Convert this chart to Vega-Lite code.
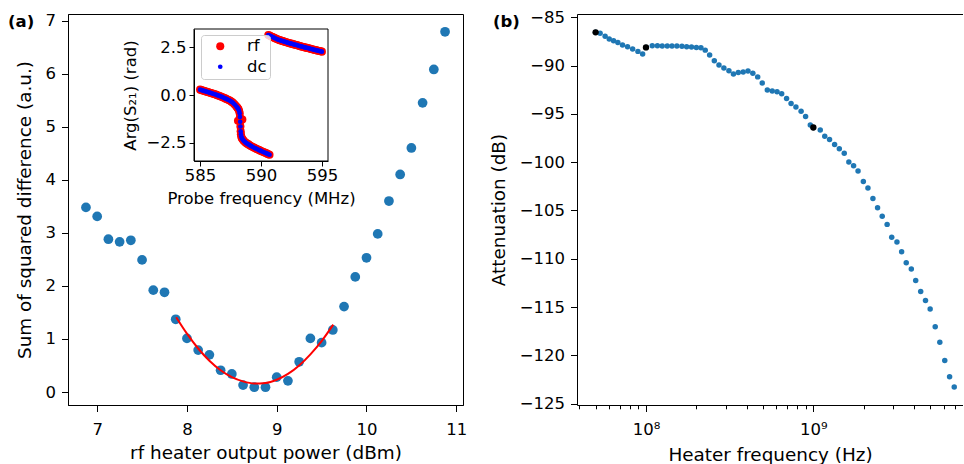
{
  "$schema": "https://vega.github.io/schema/vega-lite/v6.json",
  "padding": {"left": 7, "top": 9, "right": 0, "bottom": 0},
  "background": "white",
  "spacing": 21,
  "config": {
    "font": "DejaVu Sans",
    "view": {"stroke": "black", "strokeWidth": 1},
    "axis": {"domainColor": "black", "tickColor": "black", "labelColor": "black", "titleColor": "black", "grid": false, "labelFont": "DejaVu Sans", "titleFont": "DejaVu Sans", "labelFontSize": 16.5, "titleFontSize": 18.4, "titleFontWeight": "normal", "tickSize": 6.5, "labelPadding": 6, "titlePadding": 10.5, "domainWidth": 1, "tickWidth": 1, "labelFlush": false, "labelOverlap": false}
  },
  "datasets": {
    "scan": [
      {"power": 6.875, "ssd": 3.48}, {"power": 7.0, "ssd": 3.31}, {"power": 7.125, "ssd": 2.88}, {"power": 7.25, "ssd": 2.83},
      {"power": 7.375, "ssd": 2.86}, {"power": 7.5, "ssd": 2.49}, {"power": 7.625, "ssd": 1.92}, {"power": 7.75, "ssd": 1.88},
      {"power": 7.875, "ssd": 1.37}, {"power": 8.0, "ssd": 1.01}, {"power": 8.125, "ssd": 0.79}, {"power": 8.25, "ssd": 0.70},
      {"power": 8.375, "ssd": 0.41}, {"power": 8.5, "ssd": 0.34}, {"power": 8.625, "ssd": 0.13}, {"power": 8.75, "ssd": 0.09},
      {"power": 8.875, "ssd": 0.09}, {"power": 9.0, "ssd": 0.28}, {"power": 9.125, "ssd": 0.21}, {"power": 9.25, "ssd": 0.57},
      {"power": 9.375, "ssd": 1.01}, {"power": 9.5, "ssd": 0.93}, {"power": 9.625, "ssd": 1.17}, {"power": 9.75, "ssd": 1.61},
      {"power": 9.875, "ssd": 2.17}, {"power": 10.0, "ssd": 2.53}, {"power": 10.125, "ssd": 2.98}, {"power": 10.25, "ssd": 3.60},
      {"power": 10.375, "ssd": 4.10}, {"power": 10.5, "ssd": 4.60}, {"power": 10.625, "ssd": 5.45}, {"power": 10.75, "ssd": 6.08},
      {"power": 10.875, "ssd": 6.79}
    ],
    "fit": [
      {"power": 7.88, "ssd": 1.41}, {"power": 8.0, "ssd": 1.10}, {"power": 8.125, "ssd": 0.82}, {"power": 8.25, "ssd": 0.59},
      {"power": 8.375, "ssd": 0.41}, {"power": 8.5, "ssd": 0.28}, {"power": 8.625, "ssd": 0.20}, {"power": 8.75, "ssd": 0.16},
      {"power": 8.875, "ssd": 0.17}, {"power": 9.0, "ssd": 0.23}, {"power": 9.125, "ssd": 0.34}, {"power": 9.25, "ssd": 0.50},
      {"power": 9.375, "ssd": 0.71}, {"power": 9.5, "ssd": 0.96}, {"power": 9.63, "ssd": 1.27}
    ],
    "inset": [
      {"f": 585.0, "rf": 0.28, "dc": 0.28}, {"f": 585.1, "rf": 0.26, "dc": 0.26}, {"f": 585.2, "rf": 0.24, "dc": 0.24},
      {"f": 585.3, "rf": 0.22, "dc": 0.22}, {"f": 585.4, "rf": 0.20, "dc": 0.20}, {"f": 585.5, "rf": 0.18, "dc": 0.18},
      {"f": 585.6, "rf": 0.16, "dc": 0.16}, {"f": 585.7, "rf": 0.14, "dc": 0.14}, {"f": 585.8, "rf": 0.12, "dc": 0.12},
      {"f": 585.9, "rf": 0.10, "dc": 0.10}, {"f": 586.0, "rf": 0.08, "dc": 0.08}, {"f": 586.1, "rf": 0.06, "dc": 0.06},
      {"f": 586.2, "rf": 0.04, "dc": 0.04}, {"f": 586.3, "rf": 0.02, "dc": 0.02}, {"f": 586.4, "rf": -0.01, "dc": -0.01},
      {"f": 586.5, "rf": -0.03, "dc": -0.03}, {"f": 586.6, "rf": -0.05, "dc": -0.05}, {"f": 586.7, "rf": -0.08, "dc": -0.08},
      {"f": 586.8, "rf": -0.10, "dc": -0.10}, {"f": 586.9, "rf": -0.13, "dc": -0.13}, {"f": 587.0, "rf": -0.16, "dc": -0.16},
      {"f": 587.1, "rf": -0.19, "dc": -0.19}, {"f": 587.2, "rf": -0.22, "dc": -0.22}, {"f": 587.3, "rf": -0.25, "dc": -0.25},
      {"f": 587.4, "rf": -0.28, "dc": -0.28}, {"f": 587.5, "rf": -0.32, "dc": -0.32}, {"f": 587.6, "rf": -0.36, "dc": -0.36},
      {"f": 587.7, "rf": -0.41, "dc": -0.41}, {"f": 587.8, "rf": -0.47, "dc": -0.47}, {"f": 587.9, "rf": -0.54, "dc": -0.54},
      {"f": 588.0, "rf": -0.62, "dc": -0.62}, {"f": 588.05, "rf": -0.66, "dc": -0.66}, {"f": 588.1, "rf": -0.70, "dc": -0.70},
      {"f": 588.11, "rf": -1.35, "dc": null},
      {"f": 588.15, "rf": -0.75, "dc": -0.75}, {"f": 588.2, "rf": -0.82, "dc": -0.82}, {"f": 588.25, "rf": -0.95, "dc": -0.95},
      {"f": 588.27, "rf": -1.15, "dc": -1.15}, {"f": 588.29, "rf": -1.40, "dc": -1.40}, {"f": 588.31, "rf": -1.65, "dc": -1.65},
      {"f": 588.33, "rf": -1.90, "dc": -1.90}, {"f": 588.35, "rf": -2.05, "dc": -2.05}, {"f": 588.38, "rf": -2.17, "dc": -2.17},
      {"f": 588.42, "rf": -2.25, "dc": -2.25}, {"f": 588.47, "rf": -2.30, "dc": -2.30},
      {"f": 588.47, "rf": -1.28, "dc": null},
      {"f": 588.55, "rf": -2.37, "dc": -2.37}, {"f": 588.6, "rf": -2.41, "dc": -2.41}, {"f": 588.7, "rf": -2.47, "dc": -2.47},
      {"f": 588.8, "rf": -2.52, "dc": -2.52}, {"f": 588.9, "rf": -2.56, "dc": -2.56}, {"f": 589.0, "rf": -2.60, "dc": -2.60},
      {"f": 589.1, "rf": -2.64, "dc": -2.64}, {"f": 589.2, "rf": -2.68, "dc": -2.68}, {"f": 589.3, "rf": -2.71, "dc": -2.71},
      {"f": 589.4, "rf": -2.75, "dc": -2.75}, {"f": 589.5, "rf": -2.78, "dc": -2.78}, {"f": 589.6, "rf": -2.81, "dc": -2.81},
      {"f": 589.7, "rf": -2.84, "dc": -2.84}, {"f": 589.8, "rf": -2.87, "dc": -2.87}, {"f": 589.9, "rf": -2.90, "dc": -2.90},
      {"f": 590.0, "rf": -2.93, "dc": -2.93}, {"f": 590.1, "rf": -2.96, "dc": -2.96}, {"f": 590.2, "rf": -2.99, "dc": -2.99},
      {"f": 590.3, "rf": -3.01, "dc": -3.01}, {"f": 590.4, "rf": -3.04, "dc": -3.04}, {"f": 590.5, "rf": -3.07, "dc": -3.07},
      {"f": 590.6, "rf": -3.10, "dc": -3.10}, {"f": 590.7, "rf": -3.13, "dc": -3.13},
      {"f": 590.6, "rf": 3.14, "dc": 3.14}, {"f": 590.7, "rf": 3.11, "dc": 3.11}, {"f": 590.8, "rf": 3.08, "dc": 3.08},
      {"f": 590.9, "rf": 3.05, "dc": 3.05}, {"f": 591.0, "rf": 3.02, "dc": 3.02}, {"f": 591.1, "rf": 2.99, "dc": 2.99},
      {"f": 591.2, "rf": 2.96, "dc": 2.96}, {"f": 591.3, "rf": 2.93, "dc": 2.93}, {"f": 591.4, "rf": 2.90, "dc": 2.90},
      {"f": 591.5, "rf": 2.88, "dc": 2.88}, {"f": 591.6, "rf": 2.86, "dc": 2.86}, {"f": 591.7, "rf": 2.84, "dc": 2.84},
      {"f": 591.8, "rf": 2.82, "dc": 2.82}, {"f": 591.9, "rf": 2.80, "dc": 2.80}, {"f": 592.0, "rf": 2.78, "dc": 2.78},
      {"f": 592.1, "rf": 2.76, "dc": 2.76}, {"f": 592.2, "rf": 2.74, "dc": 2.74}, {"f": 592.3, "rf": 2.72, "dc": 2.72},
      {"f": 592.4, "rf": 2.70, "dc": 2.70}, {"f": 592.5, "rf": 2.69, "dc": 2.69}, {"f": 592.6, "rf": 2.67, "dc": 2.67},
      {"f": 592.7, "rf": 2.65, "dc": 2.65}, {"f": 592.8, "rf": 2.63, "dc": 2.63}, {"f": 592.9, "rf": 2.62, "dc": 2.62},
      {"f": 593.0, "rf": 2.60, "dc": 2.60}, {"f": 593.1, "rf": 2.58, "dc": 2.58}, {"f": 593.2, "rf": 2.56, "dc": 2.56},
      {"f": 593.3, "rf": 2.54, "dc": 2.54}, {"f": 593.4, "rf": 2.53, "dc": 2.53}, {"f": 593.5, "rf": 2.51, "dc": 2.51},
      {"f": 593.6, "rf": 2.49, "dc": 2.49}, {"f": 593.7, "rf": 2.48, "dc": 2.48}, {"f": 593.8, "rf": 2.46, "dc": 2.46},
      {"f": 593.9, "rf": 2.45, "dc": 2.45}, {"f": 594.0, "rf": 2.43, "dc": 2.43}, {"f": 594.1, "rf": 2.41, "dc": 2.41},
      {"f": 594.2, "rf": 2.40, "dc": 2.40}, {"f": 594.3, "rf": 2.38, "dc": 2.38}, {"f": 594.4, "rf": 2.36, "dc": 2.36},
      {"f": 594.5, "rf": 2.35, "dc": 2.35}, {"f": 594.6, "rf": 2.33, "dc": 2.33}, {"f": 594.7, "rf": 2.32, "dc": 2.32},
      {"f": 594.8, "rf": 2.30, "dc": 2.30}, {"f": 594.9, "rf": 2.29, "dc": 2.29}, {"f": 595.0, "rf": 2.27, "dc": 2.27}
    ],
    "att": [
      {"freq": 5.0e7, "att": -86.56}, {"freq": 5.32e7, "att": -86.66}, {"freq": 5.70e7, "att": -86.97}, {"freq": 6.03e7, "att": -87.25},
      {"freq": 6.40e7, "att": -87.42}, {"freq": 6.79e7, "att": -87.60}, {"freq": 7.24e7, "att": -87.87}, {"freq": 7.76e7, "att": -88.05},
      {"freq": 8.32e7, "att": -88.29}, {"freq": 8.95e7, "att": -88.53}, {"freq": 9.55e7, "att": -88.81},
      {"freq": 1.0e8, "att": -88.12}, {"freq": 1.09e8, "att": -87.94}, {"freq": 1.17e8, "att": -87.94}, {"freq": 1.25e8, "att": -87.98},
      {"freq": 1.34e8, "att": -87.98}, {"freq": 1.43e8, "att": -87.98}, {"freq": 1.53e8, "att": -87.98}, {"freq": 1.64e8, "att": -88.01},
      {"freq": 1.75e8, "att": -88.05}, {"freq": 1.87e8, "att": -88.08}, {"freq": 2.00e8, "att": -88.12}, {"freq": 2.13e8, "att": -88.15},
      {"freq": 2.26e8, "att": -88.40}, {"freq": 2.40e8, "att": -88.90}, {"freq": 2.56e8, "att": -89.50}, {"freq": 2.73e8, "att": -89.93},
      {"freq": 2.92e8, "att": -90.26}, {"freq": 3.13e8, "att": -90.54}, {"freq": 3.33e8, "att": -90.88}, {"freq": 3.56e8, "att": -90.71},
      {"freq": 3.81e8, "att": -90.66}, {"freq": 4.07e8, "att": -90.57}, {"freq": 4.35e8, "att": -90.80}, {"freq": 4.65e8, "att": -91.17},
      {"freq": 4.95e8, "att": -91.81}, {"freq": 5.31e8, "att": -92.52}, {"freq": 5.68e8, "att": -92.62}, {"freq": 6.07e8, "att": -92.71},
      {"freq": 6.47e8, "att": -92.92}, {"freq": 6.92e8, "att": -93.42}, {"freq": 7.36e8, "att": -93.92}, {"freq": 7.87e8, "att": -94.30},
      {"freq": 8.45e8, "att": -94.72}, {"freq": 8.99e8, "att": -95.27}, {"freq": 9.59e8, "att": -96.15},
      {"freq": 1.0e9, "att": -96.41}, {"freq": 1.10e9, "att": -96.66}, {"freq": 1.17e9, "att": -97.31}, {"freq": 1.25e9, "att": -97.66},
      {"freq": 1.34e9, "att": -98.18}, {"freq": 1.43e9, "att": -98.61}, {"freq": 1.53e9, "att": -99.08}, {"freq": 1.63e9, "att": -99.98},
      {"freq": 1.74e9, "att": -100.36}, {"freq": 1.85e9, "att": -100.91}, {"freq": 1.99e9, "att": -102.00}, {"freq": 2.12e9, "att": -102.68},
      {"freq": 2.27e9, "att": -103.76}, {"freq": 2.42e9, "att": -104.71}, {"freq": 2.58e9, "att": -105.60}, {"freq": 2.76e9, "att": -106.44},
      {"freq": 2.94e9, "att": -107.77}, {"freq": 3.16e9, "att": -108.26}, {"freq": 3.37e9, "att": -109.28}, {"freq": 3.59e9, "att": -110.42},
      {"freq": 3.85e9, "att": -111.07}, {"freq": 4.09e9, "att": -112.25}, {"freq": 4.38e9, "att": -113.39}, {"freq": 4.68e9, "att": -114.31},
      {"freq": 4.99e9, "att": -115.19}, {"freq": 5.35e9, "att": -117.03}, {"freq": 5.70e9, "att": -118.65}, {"freq": 6.10e9, "att": -120.53},
      {"freq": 6.52e9, "att": -122.22}, {"freq": 6.95e9, "att": -123.28}
    ],
    "segstart": [
      {"freq": 5.0e7, "att": -86.56}, {"freq": 1.0e8, "att": -88.12}, {"freq": 1.0e9, "att": -96.41}
    ]
  },
  "hconcat": [
    {
      "width": 395,
      "height": 391,
      "layer": [
        {
          "layer": [
            {
              "data": {"name": "scan"},
              "mark": {"type": "circle", "size": 95, "color": "#1f77b4", "opacity": 1},
              "encoding": {
                "x": {"field": "power", "type": "quantitative", "scale": {"domain": [6.675, 11.075], "nice": false, "zero": false}, "axis": {"values": [7, 8, 9, 10, 11], "format": "d", "title": "rf heater output power (dBm)", "labelPadding": 9.5, "titlePadding": 6}},
                "y": {"field": "ssd", "type": "quantitative", "scale": {"domain": [-0.245, 7.125], "nice": false, "zero": false}, "axis": {"values": [0, 1, 2, 3, 4, 5, 6, 7], "format": "d", "title": "Sum of squared difference (a.u.)"}}
              }
            },
            {
              "data": {"name": "fit"},
              "mark": {"type": "line", "color": "red", "strokeWidth": 2, "interpolate": "monotone"},
              "encoding": {
                "x": {"field": "power", "type": "quantitative"},
                "y": {"field": "ssd", "type": "quantitative"}
              }
            },
            {
              "data": {"values": [{"label": "(a)"}]},
              "mark": {"type": "text", "font": "DejaVu Sans", "fontSize": 16.5, "fontWeight": "bold", "color": "black", "align": "left", "baseline": "alphabetic", "dx": -60, "dy": 13},
              "encoding": {
                "x": {"datum": 6.675, "type": "quantitative"},
                "y": {"datum": 7.125, "type": "quantitative"},
                "text": {"field": "label"}
              }
            }
          ]
        },
        {
          "layer": [
            {
              "data": {"values": [{}]},
              "mark": {"type": "rect", "fill": "white", "stroke": "black", "strokeWidth": 1},
              "encoding": {
                "x": {"datum": 584.5, "type": "quantitative", "scale": {"domain": [584.5, 595.5], "range": [126, 260], "nice": false, "zero": false}, "axis": {"orient": "bottom", "offset": -244, "zindex": 1, "values": [585, 590, 595], "tickSize": 5, "labelPadding": 1.5, "title": "Probe frequency (MHz)", "titleFontSize": 16.5, "titlePadding": 6}},
                "x2": {"datum": 595.5},
                "y": {"datum": -3.456, "type": "quantitative", "scale": {"domain": [-3.456, 3.456], "range": [147, 15], "nice": false, "zero": false}, "axis": {"orient": "left", "offset": -126, "zindex": 1, "values": [-2.5, 0, 2.5], "tickSize": 5, "labelPadding": 3, "labelExpr": "datum.value < 0 ? '\u2212' + format(-datum.value, '.1f') : format(datum.value, '.1f')", "title": "Arg(S\u2082\u2081) (rad)", "titleFontSize": 16.5, "titlePadding": 7}},
                "y2": {"datum": 3.456}
              }
            },
            {
              "data": {"name": "inset"},
              "transform": [{"fold": ["rf", "dc"], "as": ["series", "arg"]}],
              "mark": {"type": "circle", "opacity": 1},
              "encoding": {
                "x": {"field": "f", "type": "quantitative"},
                "y": {"field": "arg", "type": "quantitative"},
                "color": {"field": "series", "type": "nominal", "scale": {"domain": ["rf", "dc"], "range": ["#ff0000", "#0000ff"]},
                  "legend": {"orient": "none", "legendX": 133, "legendY": 21, "title": null, "strokeColor": "#cccccc", "fillColor": "rgba(255,255,255,0.8)", "cornerRadius": 3, "padding": 3, "rowPadding": 3.5, "labelFontSize": 16.5, "labelFont": "DejaVu Sans", "labelColor": "black", "labelOffset": 18.5, "symbolOffset": 8, "symbolType": "circle", "symbolStrokeWidth": 0}},
                "size": {"field": "series", "type": "nominal", "scale": {"domain": ["rf", "dc"], "range": [65, 22]},
                  "legend": {"orient": "none", "legendX": 133, "legendY": 21, "title": null, "strokeColor": "#cccccc", "fillColor": "rgba(255,255,255,0.8)", "cornerRadius": 3, "padding": 3, "rowPadding": 3.5, "labelFontSize": 16.5, "labelFont": "DejaVu Sans", "labelColor": "black", "labelOffset": 18.5, "symbolOffset": 8, "symbolType": "circle", "symbolStrokeWidth": 0}},
                "order": {"field": "series", "sort": "descending"}
              }
            }
          ]
        }
      ],
      "resolve": {"scale": {"x": "independent", "y": "independent"}, "axis": {"x": "independent", "y": "independent"}}
    },
    {
      "width": 386,
      "height": 391,
      "view": {"stroke": null},
      "layer": [
        {
          "data": {"name": "att"},
          "mark": {"type": "circle", "size": 30, "color": "#1f77b4", "opacity": 1},
          "encoding": {
            "x": {"field": "freq", "type": "quantitative", "scale": {"type": "log", "domain": [3.87e7, 7.84e9], "nice": false},
              "axis": {"values": [40000000, 50000000, 60000000, 70000000, 80000000, 90000000, 100000000, 200000000, 300000000, 400000000, 500000000, 600000000, 700000000, 800000000, 900000000, 1000000000, 2000000000, 3000000000, 4000000000, 5000000000, 6000000000, 7000000000],
                "labelExpr": "datum.value == 100000000 ? '10\u2078' : datum.value == 1000000000 ? '10\u2079' : ''",
                "tickSize": {"condition": {"test": "datum.value == 100000000 || datum.value == 1000000000", "value": 6.5}, "value": 3.8},
                "labelPadding": 9.5,
                "title": "Heater frequency (Hz)", "titlePadding": 8}},
            "y": {"field": "att", "type": "quantitative", "scale": {"domain": [-125.14, -84.66], "nice": false, "zero": false},
              "axis": {"values": [-125, -120, -115, -110, -105, -100, -95, -90, -85], "labelExpr": "'\u2212' + format(-datum.value, 'd')", "title": "Attenuation (dB)"}}
          }
        },
        {
          "data": {"name": "segstart"},
          "mark": {"type": "circle", "size": 40, "color": "black", "opacity": 1},
          "encoding": {
            "x": {"field": "freq", "type": "quantitative", "axis": {"orient": "top", "labels": false, "ticks": false, "title": null, "domain": true}},
            "y": {"field": "att", "type": "quantitative"}
          }
        },
        {
          "data": {"values": [{"label": "(b)"}]},
          "mark": {"type": "text", "font": "DejaVu Sans", "fontSize": 16.5, "fontWeight": "bold", "color": "black", "align": "left", "baseline": "alphabetic", "dx": -84, "dy": 13},
          "encoding": {
            "x": {"datum": 38700000, "type": "quantitative", "axis": null},
            "y": {"datum": -84.66, "type": "quantitative"},
            "text": {"field": "label"}
          }
        }
      ],
      "resolve": {"axis": {"x": "independent"}}
    }
  ]
}
